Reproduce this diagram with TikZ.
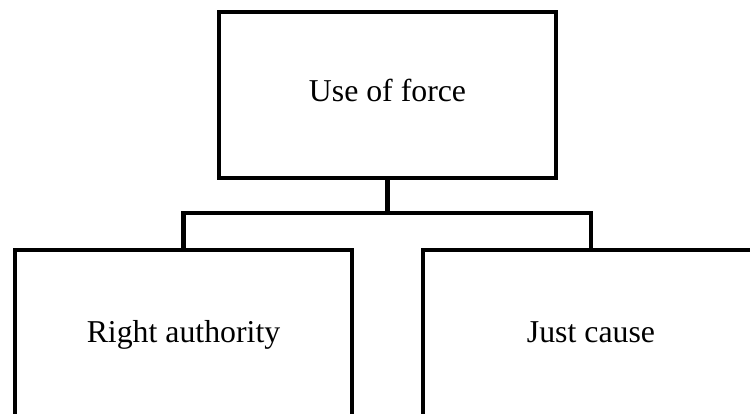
\documentclass[tikz,border=0pt]{standalone}
\usepackage{fontspec}
\setmainfont{Liberation Serif}
\begin{document}
\begin{tikzpicture}[x=1pt,y=-1pt,
  box/.style={draw=black,line width=4.5pt,line join=miter,inner sep=0pt,outer sep=0pt,
    font=\fontsize{31.8}{38}\selectfont,text height=22pt,text depth=8pt},
  conn/.style={draw=black,line width=4.5pt,line join=miter}]
\useasboundingbox (0,0) rectangle (750,414);
\clip (0,0) rectangle (750,414);
\node[box,minimum width=337pt,minimum height=166pt] (top) at (387.5,95) {Use of force};
\node[box,minimum width=337pt,minimum height=170pt] (lb) at (183.5,335) {Right authority};
\node[box,minimum width=336pt,minimum height=170pt] (rb) at (591,335) {Just cause};
\coordinate (j) at (387.5,213);
\draw[conn] (top.south) -- (j);
\draw[conn] (lb.north) |- (j) -| (rb.north);
\end{tikzpicture}
\end{document}
